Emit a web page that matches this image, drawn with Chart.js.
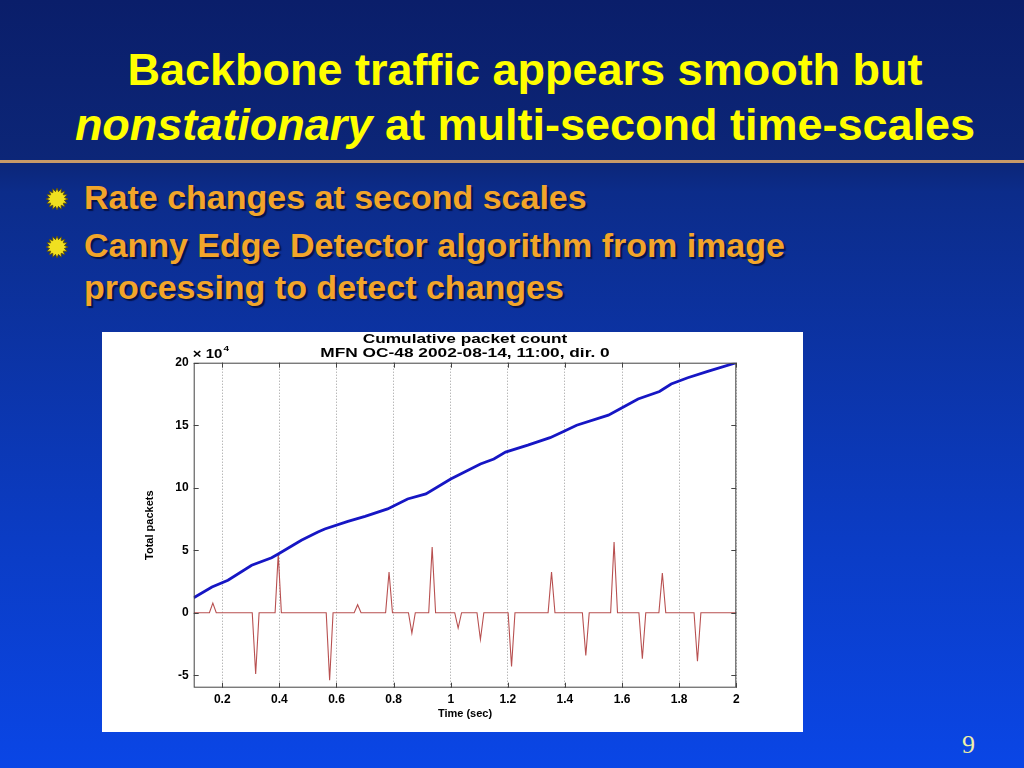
<!DOCTYPE html>
<html>
<head>
<meta charset="utf-8">
<script src="https://cdn.jsdelivr.net/npm/chart.js@4.4.1/dist/chart.umd.min.js"></script>
<style>
  html, body { margin: 0; padding: 0; }
  body {
    width: 1024px; height: 768px; overflow: hidden; position: relative;
    background: linear-gradient(to bottom, #0a1e6a 0%, #0c2678 21%, #0c2c8a 25%, #0b3cc4 70%, #0a46e6 100%);
    font-family: "Liberation Sans", Arial, sans-serif;
  }
  .title {
    position: absolute; left: 0; width: 1050px; text-align: center;
    color: #ffff00; font-weight: bold; font-size: 45px; line-height: 54px;
  }
  .rule { position: absolute; left: 0; top: 160px; width: 1024px; height: 3px; background: #c89a68; }
  .bullet {
    position: absolute; left: 84px; color: #f2a52a; font-weight: bold; font-size: 34px;
    line-height: 42px; text-shadow: 2px 2px 1px #06124a; white-space: nowrap;
  }
  .star { position: absolute; left: 45px; width: 24px; height: 24px; }
  #box { position: absolute; left: 102px; top: 332px; width: 701px; height: 400px; background: #fff; }
  .pnum { position: absolute; left: 962px; top: 730px; color: #f0f0a8; font-family: "Liberation Serif", serif; font-size: 26px; }
</style>
</head>
<body>
<div class="title" style="top:43px;">Backbone traffic appears smooth but</div>
<div class="title" style="top:98px;"><i>nonstationary</i> at multi-second time-scales</div>
<div class="rule"></div>

<svg class="star" style="top:187px;" viewBox="-12 -12 24 24"><polygon id="st" fill="#f0e020" stroke="#5a4a00" stroke-width="0.8"/></svg>
<svg class="star" style="top:235px;" viewBox="-12 -12 24 24"><polygon id="st2" fill="#f0e020" stroke="#5a4a00" stroke-width="0.8"/></svg>
<div class="bullet" style="top:176px;">Rate changes at second scales</div>
<div class="bullet" style="top:224px;">Canny Edge Detector algorithm from image<br>processing to detect changes</div>

<div id="box"><canvas id="c" width="701" height="400"></canvas></div>
<div class="pnum">9</div>

<script>
// starburst bullets
(function () {
  const pts = [];
  for (let i = 0; i < 32; i++) {
    const r = i % 2 ? 7.5 : 11, a = i * Math.PI / 16;
    pts.push((r * Math.cos(a)).toFixed(2) + ',' + (r * Math.sin(a)).toFixed(2));
  }
  document.getElementById('st').setAttribute('points', pts.join(' '));
  document.getElementById('st2').setAttribute('points', pts.join(' '));
})();

// axis ticks
const xTicks = [0.2, 0.4, 0.6, 0.8, 1, 1.2, 1.4, 1.6, 1.8, 2];
const yTicks = [-5, 0, 5, 10, 15, 20];

// cumulative packet count (x 10^4)
const blueT = [0.1, 0.164, 0.22, 0.303, 0.373, 0.396, 0.477, 0.535, 0.559, 0.64, 0.7, 0.779, 0.849, 0.913, 1.0,
               1.104, 1.151, 1.192, 1.27, 1.348, 1.395, 1.441, 1.552, 1.592, 1.656, 1.731, 1.772, 1.83, 1.9, 2.0];
const blueV = [1.2, 2.05, 2.6, 3.8, 4.4, 4.7, 5.8, 6.45, 6.7, 7.3, 7.7, 8.3, 9.1, 9.5, 10.7,
               11.9, 12.3, 12.85, 13.4, 14.0, 14.5, 15.0, 15.8, 16.3, 17.1, 17.7, 18.3, 18.8, 19.3, 20.0];

// edge detector output
const redT = [0.1,
  0.155, 0.167, 0.179,  0.305, 0.317, 0.329,  0.385, 0.396, 0.407,  0.564, 0.576, 0.588,
  0.662, 0.674, 0.686,  0.772, 0.784, 0.796,  0.852, 0.864, 0.876,  0.923, 0.935, 0.947,
  1.014, 1.026, 1.038,  1.092, 1.104, 1.116,  1.201, 1.213, 1.225,  1.341, 1.353, 1.365,
  1.461, 1.473, 1.485,  1.560, 1.572, 1.584,  1.659, 1.671, 1.683,  1.729, 1.741, 1.753,
  1.852, 1.864, 1.876,
  2.0];
const redV = [0,
  0, 0.77, 0,   0, -4.9, 0,   0, 4.7, 0,    0, -5.4, 0,
  0, 0.64, 0,   0, 3.26, 0,   0, -1.64, 0,  0, 5.26, 0,
  0, -1.23, 0,  0, -2.14, 0,  0, -4.3, 0,   0, 3.26, 0,
  0, -3.43, 0,  0, 5.66, 0,   0, -3.69, 0,  0, 3.18, 0,
  0, -3.88, 0,
  0];

const FONT = '"Liberation Sans", Arial, sans-serif';
Chart.defaults.font.family = FONT;

const frame = {
  id: 'frame',
  afterDraw(chart) {
    const { ctx, chartArea: a, scales: { x, y } } = chart;
    ctx.save();
    ctx.strokeStyle = '#444'; ctx.lineWidth = 1;
    ctx.strokeRect(a.left + 0.5, a.top + 0.5, a.right - a.left - 1, a.bottom - a.top - 1);
    ctx.beginPath();
    xTicks.forEach(v => {
      const px = Math.round(x.getPixelForValue(v)) + 0.5;
      ctx.moveTo(px, a.bottom); ctx.lineTo(px, a.bottom - 5);
      ctx.moveTo(px, a.top); ctx.lineTo(px, a.top + 5);
    });
    yTicks.forEach(v => {
      const py = Math.round(y.getPixelForValue(v)) + 0.5;
      ctx.moveTo(a.left, py); ctx.lineTo(a.left + 5, py);
      ctx.moveTo(a.right, py); ctx.lineTo(a.right - 5, py);
    });
    ctx.stroke();

    // two-line title, stretched a bit wider like the original plot
    ctx.fillStyle = '#000'; ctx.textAlign = 'center'; ctx.textBaseline = 'middle';
    ctx.font = 'bold 13px ' + FONT;
    const cx = (a.left + a.right) / 2;
    ctx.save(); ctx.translate(cx, 0); ctx.scale(1.33, 1);
    ctx.fillText('Cumulative packet count', 0, 7);
    ctx.fillText('MFN OC-48 2002-08-14, 11:00, dir. 0', 0, 21);
    ctx.restore();

    // exponent marker
    ctx.textAlign = 'left'; ctx.textBaseline = 'alphabetic';
    ctx.save(); ctx.translate(a.left - 1, 0); ctx.scale(1.25, 1);
    ctx.font = 'bold 12px ' + FONT;
    ctx.fillText('\u00d7 10', 0, a.top - 5);
    const w = ctx.measureText('\u00d7 10').width;
    ctx.font = 'bold 8px ' + FONT;
    ctx.fillText('4', w + 1, a.top - 12);
    ctx.restore();
    ctx.restore();
  }
};

new Chart(document.getElementById('c'), {
  type: 'line',
  data: {
    datasets: [
      { label: 'Cumulative', data: blueT.map((t, i) => ({ x: t, y: blueV[i] })),
        borderColor: '#1616c4', borderWidth: 2.8, pointRadius: 0, tension: 0 },
      { label: 'Edges', data: redT.map((t, i) => ({ x: t, y: redV[i] })),
        borderColor: '#b85050', borderWidth: 1.1, pointRadius: 0, tension: 0 },
    ],
  },
  options: {
    responsive: false, animation: false, devicePixelRatio: 1,
    layout: { padding: { left: 41, top: 30.7, right: 66.7, bottom: 11.4 } },
    plugins: { legend: { display: false }, tooltip: { enabled: false } },
    scales: {
      x: {
        type: 'linear', min: 0.1, max: 2,
        afterBuildTicks: s => { s.ticks = xTicks.map(v => ({ value: v })); },
        afterFit: s => { s.height = 32.9; },
        grid: { color: 'rgba(0,0,0,0.4)', lineWidth: 1, drawTicks: false },
        border: { display: false, dash: [1, 2] },
        ticks: { color: '#000', font: { size: 12, weight: 'bold' }, padding: 5, maxRotation: 0, autoSkip: false,
                 callback: v => String(v) },
        title: { display: true, text: 'Time (sec)', color: '#000', font: { size: 11, weight: 'bold' }, padding: 0 },
      },
      y: {
        min: -6, max: 20,
        afterBuildTicks: s => { s.ticks = yTicks.map(v => ({ value: v })); },
        afterFit: s => { s.width = 50.7; },
        grid: { display: false, drawTicks: false },
        border: { display: false },
        ticks: { color: '#000', font: { size: 12, weight: 'bold' }, padding: 5, autoSkip: false,
                 callback: v => String(v) },
        title: { display: true, text: 'Total packets', color: '#000', font: { size: 11, weight: 'bold' }, padding: 0 },
      },
    },
  },
  plugins: [frame],
});
</script>
</body>
</html>
